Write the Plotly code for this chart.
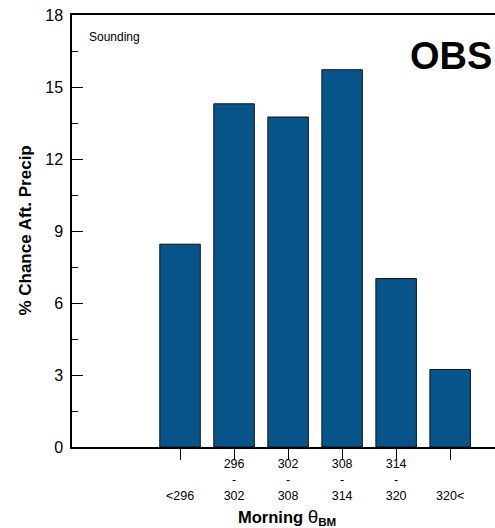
import plotly.graph_objects as go

categories = ["<296", "296-302", "302-308", "308-314", "314-320", "320<"]
tick_labels = ["<br><br>&lt;296", "296<br>-<br>302", "302<br>-<br>308",
               "308<br>-<br>314", "314<br>-<br>320", "<br><br>320&lt;"]
values = [8.45, 14.3, 13.75, 15.72, 7.02, 3.23]
xpos = list(range(len(categories)))

fig = go.Figure()
fig.add_trace(go.Bar(
    x=xpos, y=values, width=0.75,
    marker=dict(color="#07548b", line=dict(color="#111111", width=1)),
))

font_family = "Liberation Sans, Arial, Helvetica, sans-serif"
xrange = [-2, 5.83]
fig.update_layout(
    width=495, height=528,
    margin=dict(l=72, r=0, t=15, b=81),
    plot_bgcolor="white", paper_bgcolor="white",
    showlegend=False,
    font=dict(family=font_family, color="black"),
    xaxis=dict(
        range=xrange, tickmode="array", tickvals=xpos, ticktext=tick_labels,
        ticks="outside", ticklen=4, tickwidth=1, tickcolor="rgba(0,0,0,0)",
        showline=True, linecolor="black", linewidth=1.5, mirror=True,
        showgrid=False, zeroline=False, tickfont=dict(size=12.5),
    ),
    xaxis2=dict(
        range=xrange, overlaying="x", side="bottom", anchor="y",
        tickmode="array", tickvals=xpos, showticklabels=False,
        ticks="outside", ticklen=12, tickwidth=1.2, tickcolor="black",
        showline=False, showgrid=False, zeroline=False,
    ),
    yaxis=dict(
        range=[0, 18], tickvals=[0, 3, 6, 9, 12, 15, 18],
        ticks="inside", ticklen=11, tickwidth=1.2, tickcolor="black",
        minor=dict(tickvals=[1.5, 4.5, 7.5, 10.5, 13.5, 16.5], ticks="inside",
                   ticklen=6, tickwidth=1.2, tickcolor="black"),
        showline=True, linecolor="black", linewidth=1.5,
        showgrid=False, zeroline=False, tickfont=dict(size=16),
        ticklabelstandoff=4,
    ),
    annotations=[
        dict(text="Sounding", xref="paper", yref="paper", x=0.036, y=0.95,
             xanchor="left", yanchor="middle", showarrow=False, font=dict(size=12)),
        dict(text="<b>OBS</b>", xref="paper", yref="paper", x=0.795, y=0.905,
             xanchor="left", yanchor="middle", showarrow=False, font=dict(size=38)),
        dict(text="<b>% Chance Aft. Precip</b>", xref="paper", yref="paper",
             x=-0.112, y=0.5, textangle=-90, xanchor="center", yanchor="middle",
             showarrow=False, font=dict(size=17)),
        dict(text="<b>Morning</b> <span style='font-size:19px'>θ</span><sub><b>BM</b></sub>",
             xref="paper", yref="paper",
             x=0.508, y=0, yshift=-70, xanchor="center", yanchor="middle",
             showarrow=False, font=dict(size=16.5)),
    ],
)
# invisible trace to bind the tick-only overlay axis
fig.add_trace(go.Scatter(x=[xpos[0]], y=[0], xaxis="x2", mode="markers",
                         marker=dict(opacity=0), hoverinfo="skip"))
fig.write_html("out.html")
